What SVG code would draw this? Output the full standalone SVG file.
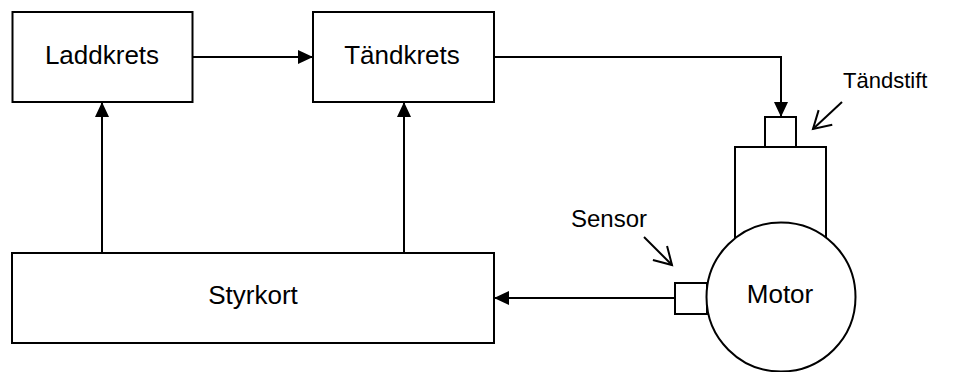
<svg xmlns="http://www.w3.org/2000/svg" width="955" height="372" viewBox="0 0 955 372">
  <style>
    .box { fill: #ffffff; stroke: #000000; stroke-width: 2; }
    .lbl { font-family: "Liberation Sans", Arial, sans-serif; font-size: 26px; fill: #000000; text-anchor: middle; }
    .note { font-family: "Liberation Sans", Arial, sans-serif; font-size: 24px; fill: #000000; }
    .conn { fill: none; stroke: #000000; stroke-width: 2; }
  </style>
  <defs>
    <marker id="solid" markerUnits="userSpaceOnUse" markerWidth="16" markerHeight="14" refX="15" refY="7" orient="auto">
      <path d="M0,0 L15,7 L0,14 Z" fill="#000000"/>
    </marker>
    <marker id="open" markerUnits="userSpaceOnUse" markerWidth="22" markerHeight="26" refX="19" refY="13" orient="auto">
      <path d="M2,3 L19,13 L2,23" fill="none" stroke="#000000" stroke-width="2"/>
    </marker>
  </defs>
  <rect width="955" height="372" fill="#ffffff"/>

  <g id="connectors">
    <path class="conn" d="M193,57 H313" marker-end="url(#solid)"/>
    <path class="conn" d="M494,57 H781 V117" marker-end="url(#solid)"/>
    <path class="conn" d="M102,253 V102" marker-end="url(#solid)"/>
    <path class="conn" d="M404,253 V102" marker-end="url(#solid)"/>
    <path class="conn" d="M675,298 H494" marker-end="url(#solid)"/>
  </g>

  <g id="laddkrets">
    <rect class="box" x="12.5" y="12" width="180" height="90"/>
    <text class="lbl" x="102" y="64">Laddkrets</text>
  </g>
  <g id="tandkrets">
    <rect class="box" x="313" y="12" width="181" height="90"/>
    <text class="lbl" x="402" y="64">Tändkrets</text>
  </g>
  <g id="styrkort">
    <rect class="box" x="12" y="253" width="482" height="90"/>
    <text class="lbl" x="253" y="304">Styrkort</text>
  </g>
  <g id="motor">
    <rect class="box" x="765" y="117" width="31" height="30"/>
    <rect class="box" x="735" y="147" width="91" height="120"/>
    <rect class="box" x="675" y="283" width="32" height="31"/>
    <circle class="box" cx="781" cy="297" r="74.5"/>
    <text class="lbl" x="780" y="303">Motor</text>
  </g>
  <g id="tandstift-label">
    <text class="note" x="843" y="88" style="font-size:22px">Tändstift</text>
    <path class="conn" d="M842,102 L813,129" marker-end="url(#open)"/>
  </g>
  <g id="sensor-label">
    <text class="note" x="571" y="227">Sensor</text>
    <path class="conn" d="M644,237 L672,265" marker-end="url(#open)"/>
  </g>
</svg>
